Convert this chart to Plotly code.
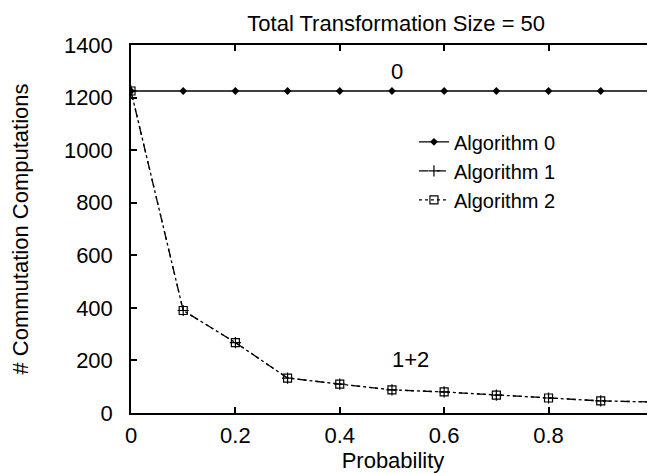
import plotly.graph_objects as go

prob = [0, 0.1, 0.2, 0.3, 0.4, 0.5, 0.6, 0.7, 0.8, 0.9, 1.0]
alg0 = [1225, 1225, 1225, 1225, 1225, 1225, 1225, 1225, 1225, 1225, 1225]
alg1 = [1225, 390, 268, 133, 110, 88, 80, 68, 57, 46, 42]
alg2 = [1225, 390, 268, 133, 110, 88, 80, 68, 57, 46, 42]
xticks = [0, 0.2, 0.4, 0.6, 0.8, 1]
xticklabels = ["0", "0.2", "0.4", "0.6", "0.8", "1"]
yticks = [0, 200, 400, 600, 800, 1000, 1200, 1400]

FONT = "Liberation Sans, Arial, Helvetica, sans-serif"
FS = 22

fig = go.Figure()
fig.add_trace(go.Scatter(x=prob, y=alg0, name="Algorithm 0", mode="lines+markers",
                         line=dict(color="black", width=1.3),
                         marker=dict(symbol="diamond", size=6, color="black")))
fig.add_trace(go.Scatter(x=prob, y=alg1, name="Algorithm 1", mode="lines+markers",
                         line=dict(color="black", width=1.3, dash="dash"),
                         marker=dict(symbol="cross-thin-open", size=8,
                                     line=dict(color="black", width=1.2))))
fig.add_trace(go.Scatter(x=prob, y=alg2, name="Algorithm 2", mode="lines+markers",
                         line=dict(color="black", width=1.3, dash="dot"),
                         marker=dict(symbol="square-open", size=8, color="black",
                                     line=dict(color="black", width=1.2))))

fig.add_annotation(x=0.51, y=1300, text="0", showarrow=False,
                   font=dict(family=FONT, size=FS, color="black"))
fig.add_annotation(x=0.535, y=205, text="1+2", showarrow=False,
                   font=dict(family=FONT, size=FS, color="black"))

axis_common = dict(showgrid=False, zeroline=False, showline=True, linecolor="black",
                   linewidth=1.5, mirror="ticks", ticks="inside", ticklen=6,
                   tickcolor="black", tickwidth=1.5, automargin=False,
                   tickfont=dict(family=FONT, size=FS, color="black"))

# page body has an 8px default margin; size the figure to fill the rest
fig.update_layout(
    width=647, height=465,
    margin=dict(l=123, r=0, t=37, b=60),
    paper_bgcolor="white", plot_bgcolor="white",
    title=dict(text="Total Transformation Size = 50", x=0.6, xanchor="center",
               y=0.968, yanchor="middle",
               font=dict(family=FONT, size=FS, color="black")),
    xaxis=dict(range=[0, 1.004], tickvals=xticks, ticktext=xticklabels,
               ticklabelstandoff=2,
               title=dict(text="Probability", standoff=0,
                          font=dict(family=FONT, size=FS, color="black")),
               **axis_common),
    yaxis=dict(range=[0, 1400], tickvals=yticks, ticklabelstandoff=12,
               title=dict(text="# Commutation Computations", standoff=32,
                          font=dict(family=FONT, size=FS, color="black")),
               **axis_common),
    legend=dict(x=0.54, y=0.79, xanchor="left", yanchor="top",
                bgcolor="rgba(0,0,0,0)", font=dict(family=FONT, size=20, color="black"),
                tracegroupgap=0),
    showlegend=True,
)

fig.write_html("out.html")
